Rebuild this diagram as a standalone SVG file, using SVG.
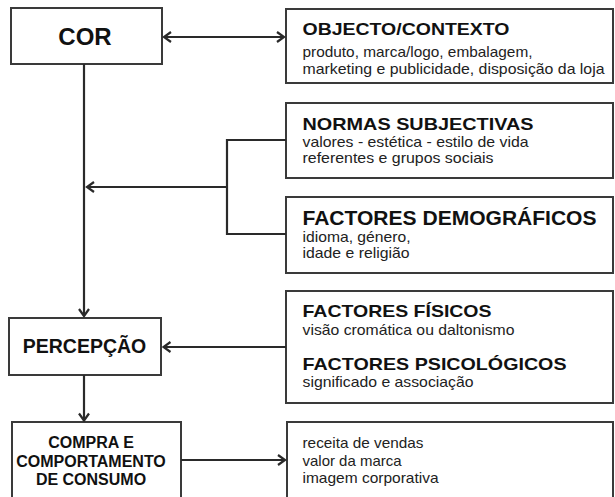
<svg xmlns="http://www.w3.org/2000/svg" width="615" height="497" viewBox="0 0 615 497">
<defs>
<style>
.box{fill:#fff;stroke:#3a3a3a;stroke-width:2}
.ln{fill:none;stroke:#2a2a2a;stroke-width:2.2}
.t{font-family:"Liberation Sans",Arial,sans-serif;font-weight:bold;fill:#111}
.s{font-family:"Liberation Sans",Arial,sans-serif;font-size:14.5px;fill:#222}
.h{font-size:17px}
.c{text-anchor:middle}
</style>
<marker id="ah" viewBox="-9 -7 11 14" refX="0" refY="0" markerWidth="11" markerHeight="14" markerUnits="userSpaceOnUse" orient="auto-start-reverse">
<path d="M-7,-5 L0,0 L-7,5" fill="none" stroke="#2a2a2a" stroke-width="2.2"/>
</marker>
</defs>
<rect width="615" height="497" fill="#fff"/>
<g id="cor">
<rect class="box" x="11" y="8" width="151" height="56"/>
<text class="t c" x="85" y="45" font-size="24">COR</text>
</g>
<g id="objecto">
<rect class="box" x="286" y="9" width="327" height="74"/>
<text class="t h" x="302.5" y="35" textLength="207" lengthAdjust="spacingAndGlyphs">OBJECTO/CONTEXTO</text>
<text class="s" x="302.5" y="56.5" textLength="230" lengthAdjust="spacingAndGlyphs">produto, marca/logo, embalagem,</text>
<text class="s" x="302.5" y="74" textLength="302" lengthAdjust="spacingAndGlyphs">marketing e publicidade, disposição da loja</text>
</g>
<g id="normas">
<rect class="box" x="286" y="103" width="327" height="75"/>
<text class="t h" x="302.5" y="129.5" textLength="231" lengthAdjust="spacingAndGlyphs">NORMAS SUBJECTIVAS</text>
<text class="s" x="302.5" y="146.5" textLength="226" lengthAdjust="spacingAndGlyphs">valores - estética - estilo de vida</text>
<text class="s" x="302.5" y="163" textLength="191" lengthAdjust="spacingAndGlyphs">referentes e grupos sociais</text>
</g>
<g id="demograficos">
<rect class="box" x="286" y="197" width="327" height="76"/>
<text class="t" x="302.5" y="224.5" font-size="20" textLength="294" lengthAdjust="spacingAndGlyphs">FACTORES DEMOGRÁFICOS</text>
<text class="s" x="302.5" y="241.5" textLength="108" lengthAdjust="spacingAndGlyphs">idioma, género,</text>
<text class="s" x="302.5" y="258" textLength="107" lengthAdjust="spacingAndGlyphs">idade e religião</text>
</g>
<g id="fisicos">
<rect class="box" x="286" y="291" width="327" height="112"/>
<text class="t h" x="302.5" y="317" textLength="189" lengthAdjust="spacingAndGlyphs">FACTORES FÍSICOS</text>
<text class="s" x="302.5" y="335" textLength="212" lengthAdjust="spacingAndGlyphs">visão cromática ou daltonismo</text>
<text class="t h" x="302.5" y="370" textLength="264" lengthAdjust="spacingAndGlyphs">FACTORES PSICOLÓGICOS</text>
<text class="s" x="302.5" y="387" textLength="171" lengthAdjust="spacingAndGlyphs">significado e associação</text>
</g>
<g id="percepcao">
<rect class="box" x="9" y="318" width="152" height="57"/>
<text class="t c" x="84.5" y="353" font-size="19.5">PERCEPÇÃO</text>
</g>
<g id="compra">
<rect class="box" x="12" y="422" width="169" height="90"/>
<text class="t c" x="91" y="448" font-size="16">COMPRA E</text>
<text class="t c" x="91" y="467" font-size="16">COMPORTAMENTO</text>
<text class="t c" x="91" y="485" font-size="16">DE CONSUMO</text>
</g>
<g id="resultados">
<rect class="box" x="287" y="422" width="326" height="90"/>
<text class="s" x="302.5" y="448" textLength="121" lengthAdjust="spacingAndGlyphs">receita de vendas</text>
<text class="s" x="302.5" y="466" textLength="99" lengthAdjust="spacingAndGlyphs">valor da marca</text>
<text class="s" x="302.5" y="483" textLength="136" lengthAdjust="spacingAndGlyphs">imagem corporativa</text>
</g>
<g id="connectors">
<path class="ln" d="M164,37 H284" marker-start="url(#ah)" marker-end="url(#ah)"/>
<path class="ln" d="M84,64 V316" marker-end="url(#ah)"/>
<path class="ln" d="M286,140 H227 V234 H286"/>
<path class="ln" d="M227,187 H87" marker-end="url(#ah)"/>
<path class="ln" d="M286,347 H163.5" marker-end="url(#ah)"/>
<path class="ln" d="M84,375 V420.5" marker-end="url(#ah)"/>
<path class="ln" d="M181,460 H285" marker-end="url(#ah)"/>
</g>
</svg>
